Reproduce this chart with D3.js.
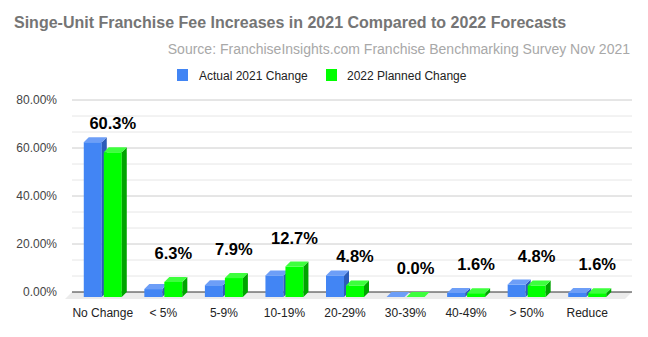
<!DOCTYPE html>
<html><head><meta charset="utf-8">
<script src="https://cdn.jsdelivr.net/npm/d3@7"></script>
<style>body{margin:0;background:#fff;}svg{display:block;font-family:"Liberation Sans",Arial,sans-serif;}</style>
</head><body>
<svg id="c" width="648" height="337"></svg>
<script>
const categories = ["No Change","< 5%","5-9%","10-19%","20-29%","30-39%","40-49%","> 50%","Reduce"];
const actual2021 = [64.5,3.3,4.9,9.0,9.0,0,1.7,5.2,1.7];
const planned2022 = [60.3,6.3,7.9,12.7,4.8,0.0,1.6,4.8,1.6];
const seriesNames = ["Actual 2021 Change","2022 Planned Change"];
const yTicks = [0,20,40,60,80];

const svg = d3.select("#c");
const DX = 5, DY = -5;
const y = d3.scaleLinear().domain([0,80]).range([297,105]);
const x = d3.scaleBand().domain(categories).range([72.5,617.5]);
const colors = [
  {front:"#4285f4", top:"#6d9ef7", side:"#2c5cb8"},
  {front:"#00ff00", top:"#3dff3d", side:"#00a400"}
];

// title
svg.append("text").attr("x",14).attr("y",28).attr("font-size",16).attr("font-weight","bold")
  .attr("fill","#757575").text("Singe-Unit Franchise Fee Increases in 2021 Compared to 2022 Forecasts");
svg.append("text").attr("x",630).attr("y",54).attr("text-anchor","end").attr("font-size",14)
  .attr("fill","#a8a8a8").text("Source: FranchiseInsights.com Franchise Benchmarking Survey Nov 2021");

// legend
const leg = [{x:177,tx:199},{x:326,tx:347}];
seriesNames.forEach((n,i)=>{
  svg.append("rect").attr("x",leg[i].x).attr("y",69).attr("width",11).attr("height",12).attr("fill",colors[i].front);
  svg.append("text").attr("x",leg[i].tx).attr("y",79.5).attr("font-size",12).attr("fill","#222").text(n);
});

// gridlines on back wall
const gridVals = d3.range(0,13).map(k=>k*80/12);
svg.append("g").selectAll("line").data(gridVals.filter(v=>v>0)).join("line")
  .attr("x1",72).attr("x2",632).attr("y1",d=>y(d)+DY).attr("y2",d=>y(d)+DY)
  .attr("stroke",d=>yTicks.includes(Math.round(d))&&Math.abs(d-Math.round(d))<1e-6?"#cccccc":"#e6e6e6").attr("stroke-width",1);

// floor
const y0b = y(0)+DY;
svg.append("path").attr("d",`M72,${y0b}L632,${y0b}L625,${y0b+7}L65,${y0b+7}Z`).attr("fill","#ebebeb");
svg.append("line").attr("x1",72).attr("x2",632).attr("y1",y0b).attr("y2",y0b).attr("stroke","#333").attr("stroke-width",1);

// y tick labels
svg.append("g").selectAll("text").data(yTicks).join("text")
  .attr("x",57).attr("y",d=>y(d)+DY+4).attr("text-anchor","end").attr("font-size",12).attr("fill","#444")
  .text(d=>d3.format(".2%")(d/100));

// bars
const g = svg.append("g");
categories.forEach((c,i)=>{
  const cx = x(c)+x.bandwidth()/2;
  [actual2021[i], planned2022[i]].forEach((v,s)=>{
    const x0 = s===0 ? cx-19 : cx+1, w = 18;
    const yt = y(v), yb = y(0);
    const col = colors[s];
    if (yb-yt>0.01){
      g.append("rect").attr("x",x0).attr("y",yt).attr("width",w).attr("height",yb-yt).attr("fill",col.front);
      g.append("path").attr("d",`M${x0+w},${yt}L${x0+w+DX},${yt+DY}L${x0+w+DX},${yb+DY}L${x0+w},${yb}Z`).attr("fill",col.side);
    }
    g.append("path").attr("d",`M${x0},${yt}L${x0+DX},${yt+DY}L${x0+w+DX},${yt+DY}L${x0+w},${yt}Z`).attr("fill",col.top);
  });
  // value label (planned)
  svg.append("text").attr("x",cx+10).attr("y",y(planned2022[i])-23).attr("text-anchor","middle")
    .attr("font-size",16.5).attr("font-weight","bold").attr("fill","#000")
    .text(d3.format(".1f")(planned2022[i])+"%");
  svg.append("text").attr("x",cx).attr("y",317).attr("text-anchor","middle").attr("font-size",12).attr("fill","#222").text(c);
});
</script>
</body></html>
